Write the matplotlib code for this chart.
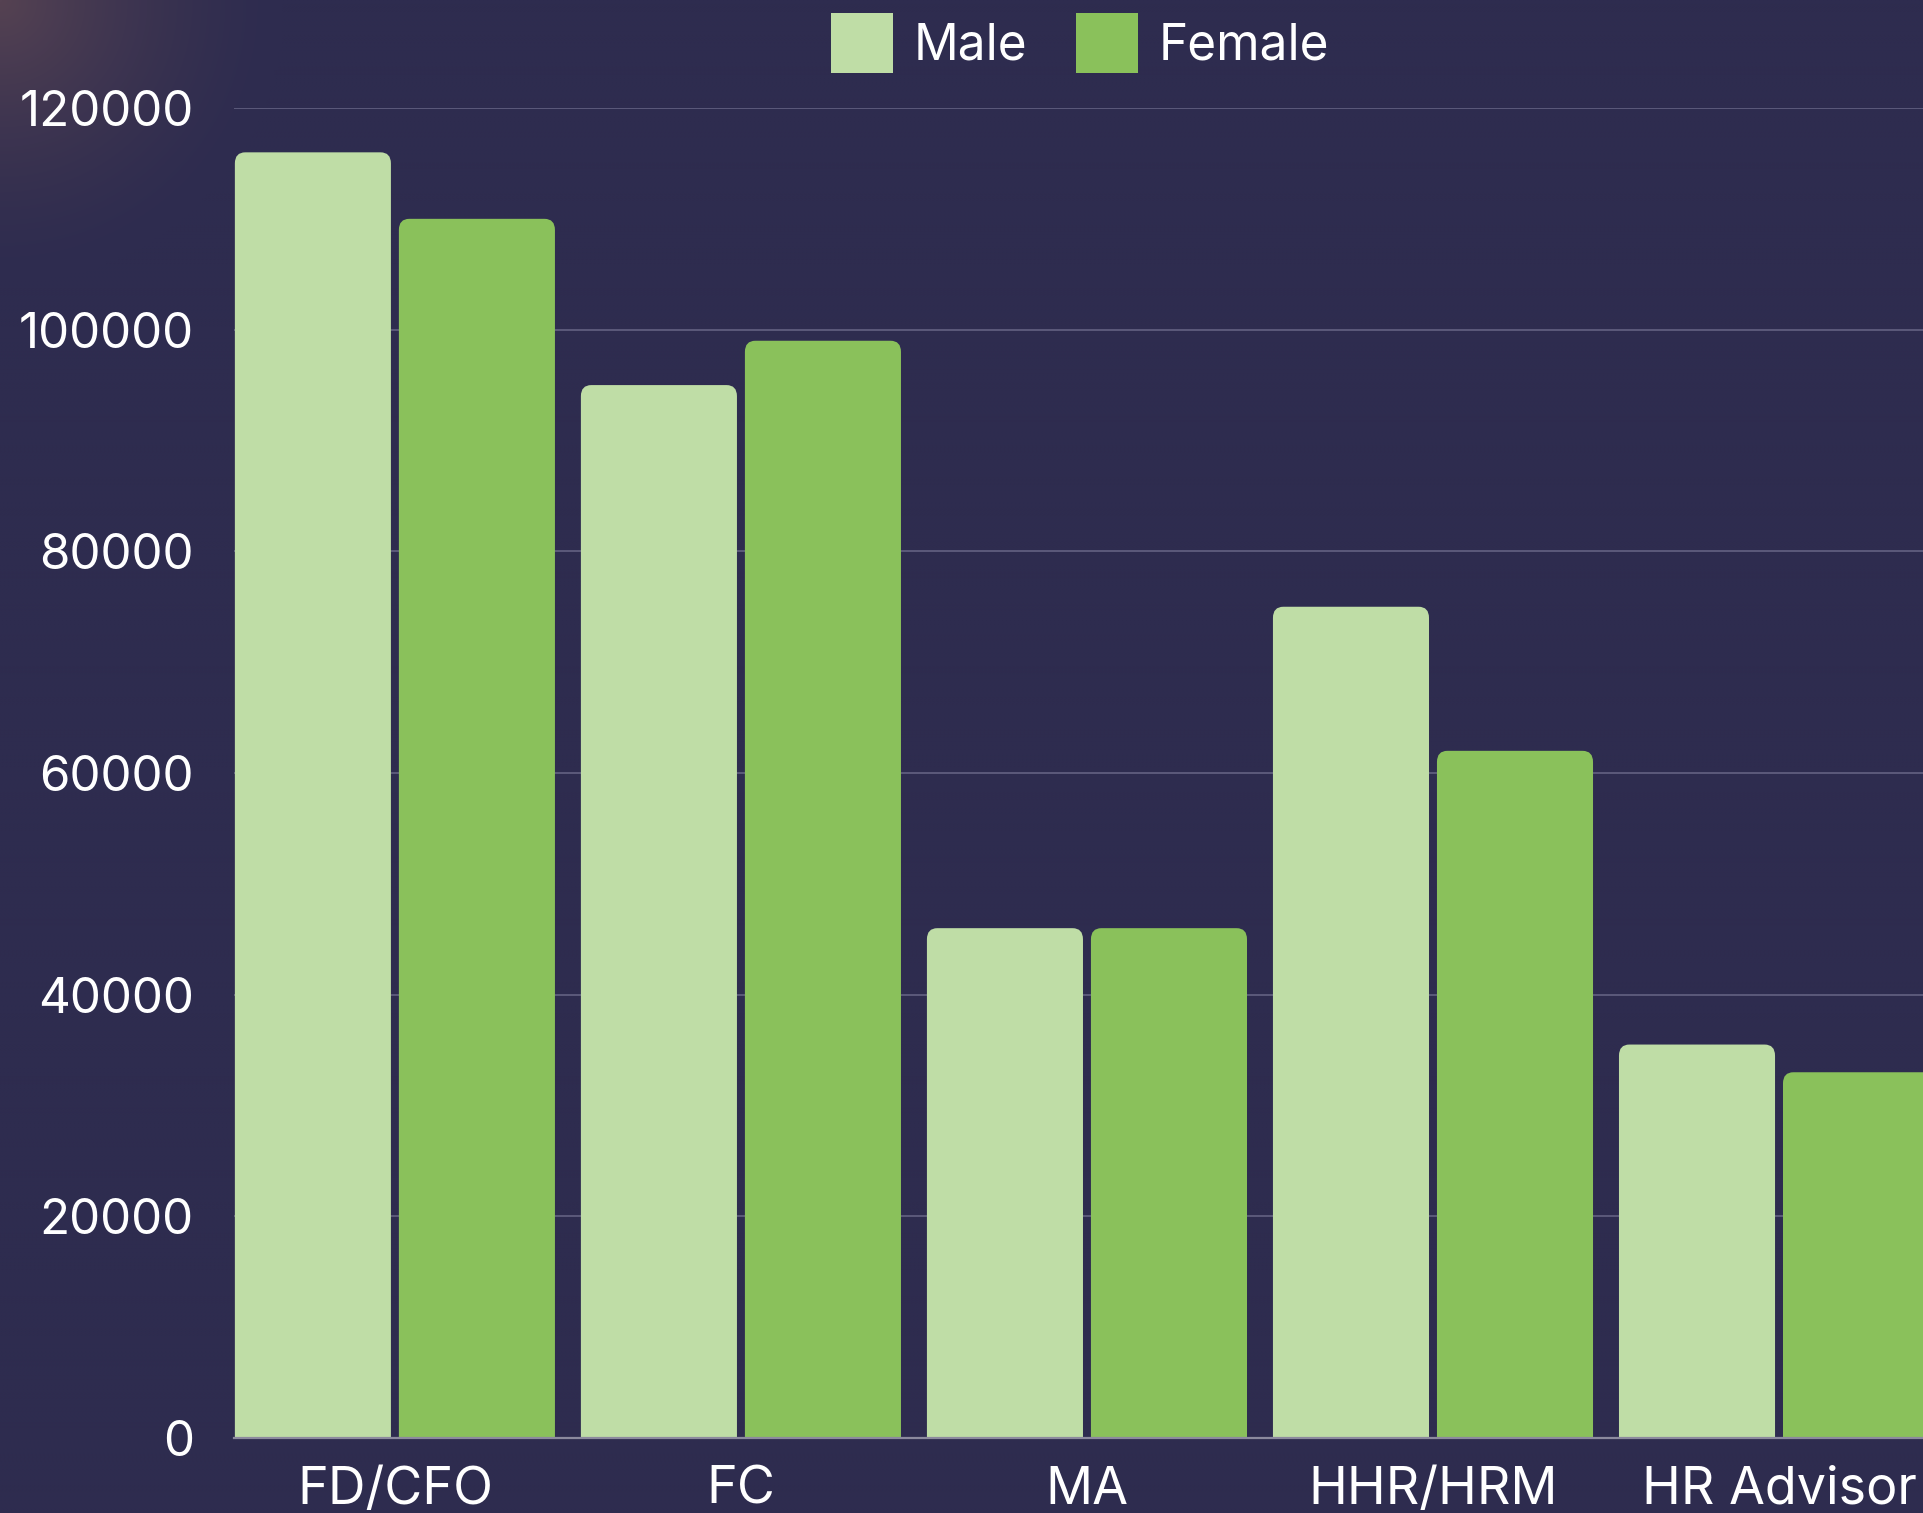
import matplotlib
matplotlib.use("Agg")
import matplotlib.pyplot as plt
import numpy as np
from matplotlib.patches import FancyBboxPatch, Patch

# data
categories = ["FD/CFO", "FC", "MA", "HHR/HRM", "HR Advisor"]
male = [116000, 95000, 46000, 75000, 35500]
female = [110000, 99000, 46000, 62000, 33000]
yticks = [0, 20000, 40000, 60000, 80000, 100000, 120000]

BG = "#2e2c4f"
MALE_C = "#bfdda6"
FEMALE_C = "#8ac15b"
GRID_C = "#5c5a7b"

plt.rcParams["font.family"] = ["Inter", "DejaVu Sans"]

fig = plt.figure(figsize=(19.24, 15.13), dpi=100, facecolor=BG)

# soft glow in the top-left corner
bg_ax = fig.add_axes([0, 0, 1, 1], zorder=-10)
h, w = 1513, 1924
yy, xx = np.mgrid[0:h:4, 0:w:4]
d = np.sqrt(xx**2 + yy**2)
glow = np.clip(1 - d / 280.0, 0, 1) ** 1.5
base = np.array([0x2e, 0x2c, 0x4f]) / 255.0
tint = np.array([0x55, 0x42, 0x52]) / 255.0
img = base[None, None, :] * (1 - glow[..., None]) + tint[None, None, :] * glow[..., None]
bg_ax.imshow(img, extent=[0, 1, 0, 1], aspect="auto", interpolation="bilinear")
bg_ax.axis("off")

ax = fig.add_axes([234 / 1924, 1 - 1438 / 1513, (1924 - 234) / 1924, (1438 - 108) / 1513])
ax.set_facecolor("none")

x = np.arange(len(categories))
off = 0.237
bw = 0.451
ymax = 120000

bars_m = ax.bar(x - off, male, bw, color=MALE_C, alpha=0)
bars_f = ax.bar(x + off, female, bw, color=FEMALE_C, alpha=0)

# rounded tops
rx = 0.03
ry = 1000
for bars, col in ((bars_m, MALE_C), (bars_f, FEMALE_C)):
    for b in bars:
        p = FancyBboxPatch((b.get_x(), -3 * ry), b.get_width(), b.get_height() + 3 * ry,
                           boxstyle="round,pad=0,rounding_size=%f" % rx,
                           mutation_aspect=ry / rx, facecolor=col, edgecolor="none",
                           zorder=3)
        ax.add_patch(p)

ax.set_xlim(-0.465, 4.419)
ax.set_ylim(0, ymax)
ax.set_yticks(yticks)
ax.set_yticklabels([str(v) for v in yticks])
ax.set_xticks(x)
ax.set_xticklabels(categories)
ax.tick_params(axis="y", length=0, pad=29, labelsize=35.5, labelcolor="white")
ax.tick_params(axis="x", length=0, pad=20, labelsize=37.5, labelcolor="white")
for lab in ax.get_yticklabels():
    lab.set_verticalalignment("center_baseline")

ax.grid(axis="y", color=GRID_C, linewidth=1.4, zorder=0)
ax.set_axisbelow(True)
for s in ["top", "right", "left"]:
    ax.spines[s].set_visible(False)
ax.spines["bottom"].set_color("#8c8a9e")
ax.spines["bottom"].set_linewidth(1.6)
ax.spines["bottom"].set_zorder(4)

handles = [Patch(facecolor=MALE_C, label="Male"), Patch(facecolor=FEMALE_C, label="Female")]
fig.legend(handles=handles, loc="center", bbox_to_anchor=(1080 / 1924, 1 - 43 / 1513),
           ncol=2, frameon=False, fontsize=35.7, labelcolor="white",
           handlelength=1.25, handleheight=1.49, handletextpad=0.4, columnspacing=1.0)

fig.savefig("out.png", dpi=100, facecolor=BG)
